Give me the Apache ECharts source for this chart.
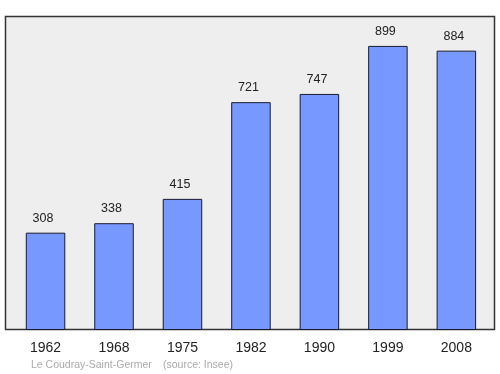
<!DOCTYPE html>
<html><head><meta charset="utf-8">
<script src="https://cdn.jsdelivr.net/npm/echarts@6/dist/echarts.min.js"></script>
<style>html,body{margin:0;padding:0;background:#fff}#c{width:500px;height:374px}</style>
</head><body><div id="c"></div>
<script>
const categories = ['1962','1968','1975','1982','1990','1999','2008'];
const population = [308, 338, 415, 721, 747, 899, 884];
const footerPlace = 'Le Coudray-Saint-Germer';
const footerSource = '(source: Insee)';

const chart = echarts.init(document.getElementById('c'), null, {renderer:'canvas'});
chart.setOption({
  animation:false,
  backgroundColor:'#ffffff',
  graphic:[
    {type:'rect', z:-10, shape:{x:5.5,y:16.5,width:489,height:313},
     style:{fill:'#eeeeee', stroke:'#333333', lineWidth:1.5}},
    {type:'text', left:31, top:359.5, style:{text:footerPlace, fill:'#aaaaaa', font:'10.5px "Liberation Sans", Arial, sans-serif'}},
    {type:'text', left:163, top:359.5, style:{text:footerSource, fill:'#aaaaaa', font:'10.5px "Liberation Sans", Arial, sans-serif'}}
  ],
  grid:{left:11.3, width:479.3, top:14, height:316, containLabel:false},
  xAxis:{type:'category', data:categories,
    axisLine:{show:false}, axisTick:{show:false}, splitLine:{show:false},
    axisLabel:{color:'#222', fontSize:14, fontFamily:'"Liberation Sans", Arial, sans-serif', margin:11}},
  yAxis:{type:'value', min:0, max:1000, show:false, splitLine:{show:false}},
  series:[{type:'bar', data:population, barWidth:39.5,
    itemStyle:{color:'#7799ff', borderColor:'#1a1a2e', borderWidth:1},
    label:{show:true, position:'top', distance:8, offset:[-2.5,0], color:'#222', fontSize:12.5,
      fontFamily:'"Liberation Sans", Arial, sans-serif'}}]
});
</script></body></html>
